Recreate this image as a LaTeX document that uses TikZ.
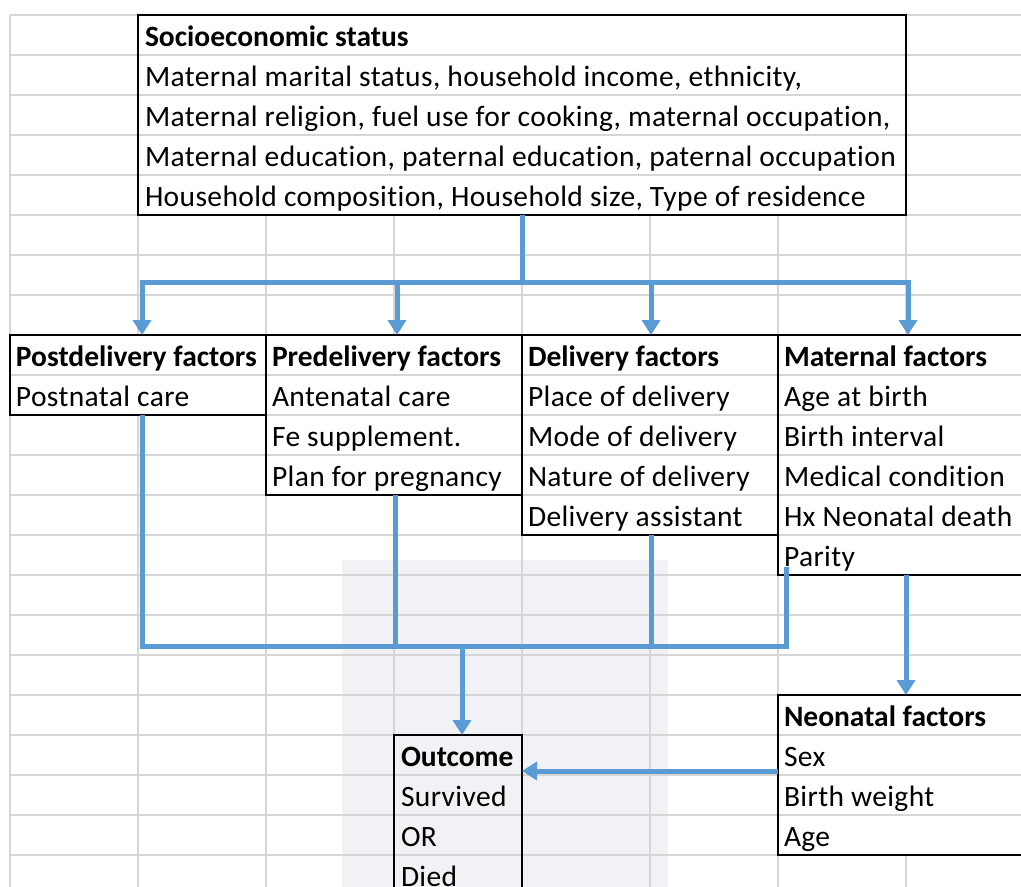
\documentclass[tikz,border=0pt]{standalone}
\usepackage{fontspec}
\setmainfont{Carlito}[Ligatures=NoCommon]
\newfontfamily\widefont{Carlito}[Ligatures=NoCommon, LetterSpace=1.3]
\usetikzlibrary{arrows.meta,calc}
\definecolor{xblue}{RGB}{91,155,213}
\definecolor{gridc}{RGB}{214,214,214}
\definecolor{wmark}{RGB}{241,241,246}
\begin{document}
\begin{tikzpicture}[x=1pt,y=1pt,
  box/.style={fill=white, anchor=north west, inner sep=0pt, outer sep=0pt},
  boxline/.style={draw=black, line width=1.6pt},
  txt/.style={anchor=base west, inner sep=0pt, outer sep=0pt, font=\widefont\fontsize{29.5}{35}\selectfont},
  hd/.style={anchor=base west, inner sep=0pt, outer sep=0pt, font=\fontsize{29.5}{35}\selectfont\bfseries},
  gridline/.style={draw=gridc, line width=2pt},
  conn/.style={draw=xblue, line width=5pt},
  arr/.style={conn, -{Triangle[width=18pt,length=15pt]}}]
\useasboundingbox (0,0) rectangle (1021,-887);
\begin{scope}
\clip (0,0) rectangle (1021,-887);
\fill[white] (0,0) rectangle (1021,-887);
% faint watermark panel
\fill[wmark] (342,-560) rectangle (668,-887);
% vertical grid lines
\foreach \x in {10,138,266,394,522,650,778,906}
  \draw[gridline] (\x,-15) -- (\x,-887);
% boxes (white fill hides inner vertical grid lines)
\node[box, minimum width=768pt, minimum height=200pt] (ses) at (138,-15) {};
\node[box, minimum width=256pt, minimum height=80pt] (post) at (10,-335) {};
\node[box, minimum width=256pt, minimum height=160pt] (pre) at (266,-335) {};
\node[box, minimum width=256pt, minimum height=200pt] (del) at (522,-335) {};
\node[box, minimum width=256pt, minimum height=240pt] (mat) at (778,-335) {};
\node[box, minimum width=256pt, minimum height=160pt] (neo) at (778,-695) {};
\node[box, fill=none, minimum width=128pt, minimum height=160pt] (out) at (394,-735) {};
% horizontal grid lines
\foreach \k in {0,...,21}
  \draw[gridline] (10,-15-40*\k) -- (1021,-15-40*\k);
% box borders
\draw[boxline, line width=2pt] (ses.north west) rectangle (ses.south east);
\foreach \b in {post,pre,del,mat,neo}
  \draw[boxline] (\b.north west) rectangle (\b.south east);
\draw[boxline, line width=1.3pt] (out.north west) rectangle (out.south east);
% texts
\node[hd] (ses0) at ($(ses.north west)+(7,-31)$) {Socioeconomic status};
\foreach \t [count=\k] in {{Maternal marital status, household income, ethnicity,},
  {Maternal religion, fuel use for cooking, maternal occupation,},
  {Maternal education, paternal education, paternal occupation},
  {Household composition, Household size, Type of residence}}
  \node[txt] (ses\k) at ($(ses.north west)+(7,-31-40*\k)$) {\t};
\node[hd] (post0) at ($(post.north west)+(6,-31)$) {Postdelivery factors};
\node[txt] (post1) at ($(post.north west)+(6,-71)$) {Postnatal care};
\node[hd] (pre0) at ($(pre.north west)+(6,-31)$) {Predelivery factors};
\foreach \t [count=\k] in {Antenatal care, Fe supplement., Plan for pregnancy}
  \node[txt] (pre\k) at ($(pre.north west)+(6,-31-40*\k)$) {\t};
\node[hd] (del0) at ($(del.north west)+(6,-31)$) {Delivery factors};
\foreach \t [count=\k] in {Place of delivery, Mode of delivery, Nature of delivery, Delivery assistant}
  \node[txt] (del\k) at ($(del.north west)+(6,-31-40*\k)$) {\t};
\node[hd] (mat0) at ($(mat.north west)+(6,-31)$) {Maternal factors};
\foreach \t [count=\k] in {Age at birth, Birth interval, Medical condition, Hx Neonatal death, Parity}
  \node[txt] (mat\k) at ($(mat.north west)+(6,-31-40*\k)$) {\t};
\node[hd] (neo0) at ($(neo.north west)+(6,-31)$) {Neonatal factors};
\foreach \t [count=\k] in {Sex, Birth weight, Age}
  \node[txt] (neo\k) at ($(neo.north west)+(6,-31-40*\k)$) {\t};
\node[hd] (out0) at ($(out.north west)+(7,-31)$) {Outcome};
\foreach \t [count=\k] in {Survived, OR, Died}
  \node[txt] (out\k) at ($(out.north west)+(7,-31-40*\k)$) {\t};
% connectors: socioeconomic status to the four factor groups
\coordinate (j0) at (522,-282);
\draw[conn] (ses.south) -- (j0);
\draw[arr] (j0) -| ([xshift=4pt]post.north);
\draw[arr] (j0) -| ([xshift=3pt]pre.north);
\draw[arr] (j0) -| ([xshift=1pt]del.north);
\draw[arr] (j0) -| ([xshift=2pt]mat.north);
% connectors: factor groups to outcome
\coordinate (j1) at (462,-646);
\coordinate (mp) at (786,-567);
\draw[conn] ([xshift=4pt]post.south) |- (j1);
\draw[conn] ([xshift=1pt]pre.south) |- (j1);
\draw[conn] ([xshift=1pt]del.south) |- (j1);
\draw[conn] (mp) |- (j1);
\draw[arr] (j1) -- (j1 |- out.north);
% maternal to neonatal, neonatal to outcome
\draw[arr] (mat.south) -- (neo.north);
\draw[arr] ([yshift=4pt]neo.west) -- ([yshift=4pt]neo.west -| out.east);
\end{scope}
\end{tikzpicture}
\end{document}
